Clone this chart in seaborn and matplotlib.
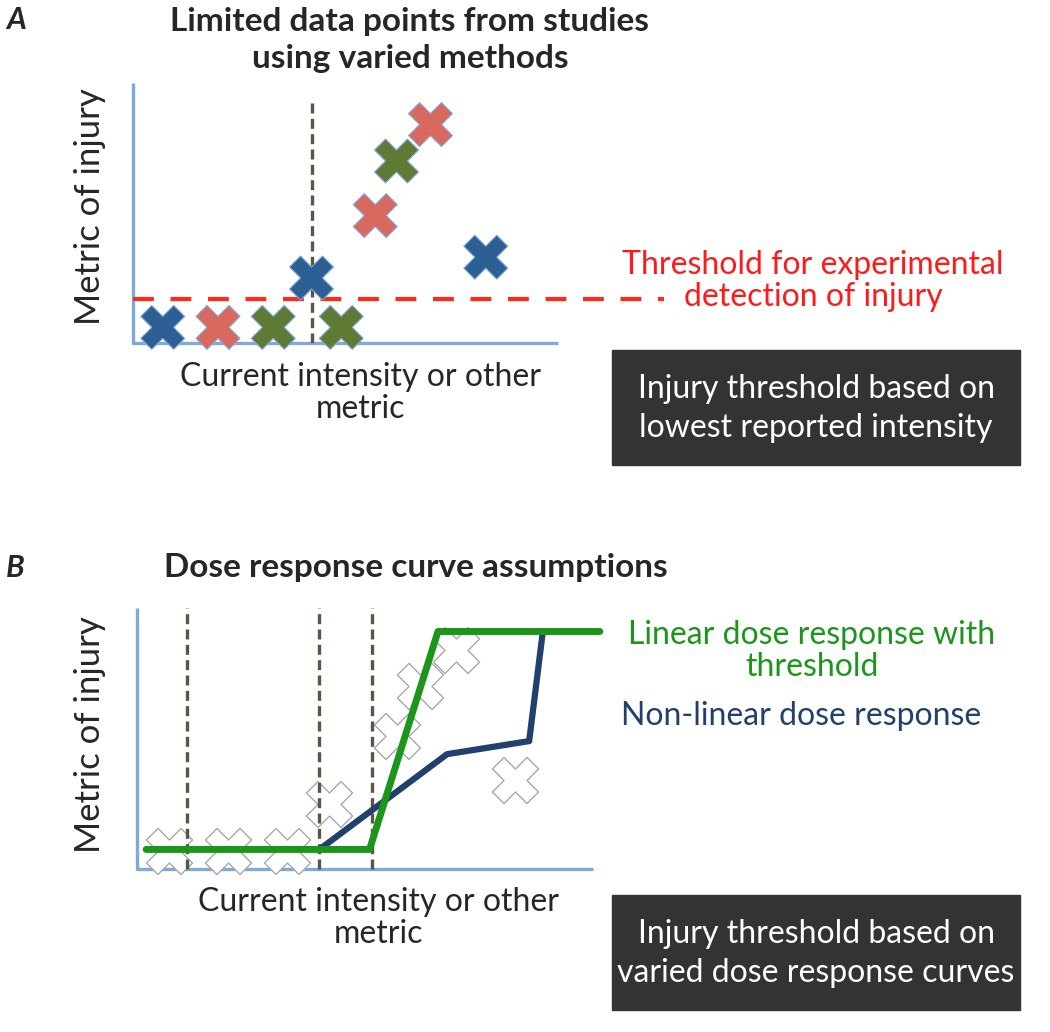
import matplotlib
matplotlib.use("Agg")
import matplotlib.pyplot as plt
from matplotlib.patches import Rectangle
import pandas as pd
import seaborn as sns

# --- panel A: reported study points (schematic units 0-10) ---
a_x = [0.7, 2.0, 3.3, 4.2, 4.9, 5.7, 6.2, 7.0, 8.3]
a_y = [0.6, 0.6, 0.6, 2.5, 0.6, 4.9, 7.0, 8.4, 3.3]
a_method = ["blue", "red", "green", "blue", "green", "red", "green", "red", "blue"]
a_cutoff_x = 4.2
a_detect_y = 1.7

# --- panel B: dose response assumptions ---
b_x = [0.7, 2.0, 3.3, 4.2, 5.7, 6.2, 7.0, 8.3]
b_y = [0.7, 0.7, 0.7, 2.5, 5.1, 7.0, 8.4, 3.4]
b_cutoffs = [1.1, 4.0, 5.15]
linear_x = [0.2, 5.1, 6.6, 10.15]
linear_y = [0.75, 0.75, 9.1, 9.1]
nonlinear_x = [4.0, 6.8, 8.6, 8.9]
nonlinear_y = [0.75, 4.4, 4.9, 9.1]

method_colors = {"blue": "#2C5F94", "red": "#D9695F", "green": "#5E7A34"}
AXIS_BLUE = "#7FA9D8"
DASH_GREY = "#5B5541"
GREEN = "#1B961B"
NAVY = "#22406C"
W, H = 1050, 1032
BODY = 23

sns.set_style("white")
plt.rcParams["font.family"] = ["Lato", "DejaVu Sans"]

fig = plt.figure(figsize=(W / 100, H / 100), dpi=100)


def px_axes(x0, y0, x1, y1):
    ax = fig.add_axes([x0 / W, 1 - y1 / H, (x1 - x0) / W, (y1 - y0) / H])
    ax.set_xlim(0, 10)
    ax.set_ylim(0, 10)
    ax.axis("off")
    ax.plot([0, 0, 10], [10, 0, 0], color=AXIS_BLUE, lw=2.4, clip_on=False,
            solid_capstyle="butt", zorder=1)
    return ax


def ftext(x, y, s, **kw):
    fig.text(x / W, 1 - y / H, s, **kw)


def dark_box(x0, y0, x1, y1, s):
    fig.patches.append(Rectangle((x0 / W, 1 - y1 / H), (x1 - x0) / W, (y1 - y0) / H,
                                 transform=fig.transFigure, color="#333333"))
    ftext((x0 + x1) / 2, (y0 + y1) / 2 + 1, s, color="white", fontsize=BODY,
          ha="center", va="center", linespacing=1.35)


# ---------------- panel A ----------------
axA = px_axes(133, 83, 558, 343)
axA.plot([a_cutoff_x, a_cutoff_x], [0, 9.3], color=DASH_GREY, lw=2.4,
         ls=(0, (3, 1.6)), zorder=2)
axA.plot([0, 12.5], [a_detect_y, a_detect_y], color="#FF2A1A", lw=3,
         ls=(0, (5, 4)), clip_on=False, zorder=2)
dfA = pd.DataFrame({"x": a_x, "y": a_y, "method": a_method})
sns.scatterplot(data=dfA, x="x", y="y", hue="method", palette=method_colors,
                marker="X", s=1000, edgecolor="#7FA9D8", linewidth=0.8,
                legend=False, ax=axA, clip_on=False, zorder=3)
axA.set_xlim(0, 10)
axA.set_ylim(0, 10)

ftext(6, 20, "A", fontsize=22, fontweight="bold", fontstyle="italic",
      ha="left", va="center")
ftext(410, 40, "Limited data points from studies\nusing varied methods",
      fontsize=24, fontweight="bold", ha="center", va="center", linespacing=1.3)
ftext(90, 207, "Metric of injury", fontsize=25, rotation=90, ha="center", va="center")
ftext(361, 393, "Current intensity or other\nmetric", fontsize=BODY,
      ha="center", va="center", linespacing=1.1)
ftext(813, 281, "Threshold for experimental\ndetection of injury", fontsize=BODY,
      color="#FF1A1A", ha="center", va="center", linespacing=1.12)
dark_box(612, 350, 1020, 465, "Injury threshold based on\nlowest reported intensity")

# ---------------- panel B ----------------
axB = px_axes(137, 608, 593, 869)
for cx in b_cutoffs:
    axB.plot([cx, cx], [0, 10], color=DASH_GREY, lw=2.4, ls=(0, (3, 1.6)), zorder=2)
dfB = pd.DataFrame({"x": b_x, "y": b_y})
sns.scatterplot(data=dfB, x="x", y="y", marker="X", s=1100, color="white",
                edgecolor="#A8A8A8", linewidth=1.0, legend=False, ax=axB,
                clip_on=False, zorder=1.5)
dfLin = pd.DataFrame({"x": linear_x, "y": linear_y})
dfNon = pd.DataFrame({"x": nonlinear_x, "y": nonlinear_y})
sns.lineplot(data=dfNon, x="x", y="y", sort=False, estimator=None, color=NAVY,
             lw=4.5, ax=axB, zorder=3)
sns.lineplot(data=dfLin, x="x", y="y", sort=False, estimator=None, color=GREEN,
             lw=5, ax=axB, zorder=4)
for ln in axB.lines:
    ln.set_clip_on(False)
axB.set_xlim(0, 10)
axB.set_ylim(0, 10)
axB.axis("off")

ftext(6, 568, "B", fontsize=22, fontweight="bold", fontstyle="italic",
      ha="left", va="center")
ftext(416, 567, "Dose response curve assumptions", fontsize=24,
      fontweight="bold", ha="center", va="center")
ftext(90, 735, "Metric of injury", fontsize=25, rotation=90, ha="center", va="center")
ftext(378, 918, "Current intensity or other\nmetric", fontsize=BODY,
      ha="center", va="center", linespacing=1.1)
ftext(812, 651, "Linear dose response with\nthreshold", fontsize=BODY,
      color=GREEN, ha="center", va="center", linespacing=1.1)
ftext(801, 716, "Non-linear dose response", fontsize=BODY, color=NAVY,
      ha="center", va="center")
dark_box(612, 895, 1020, 1010, "Injury threshold based on\nvaried dose response curves")

fig.savefig("out.png", dpi=100)
